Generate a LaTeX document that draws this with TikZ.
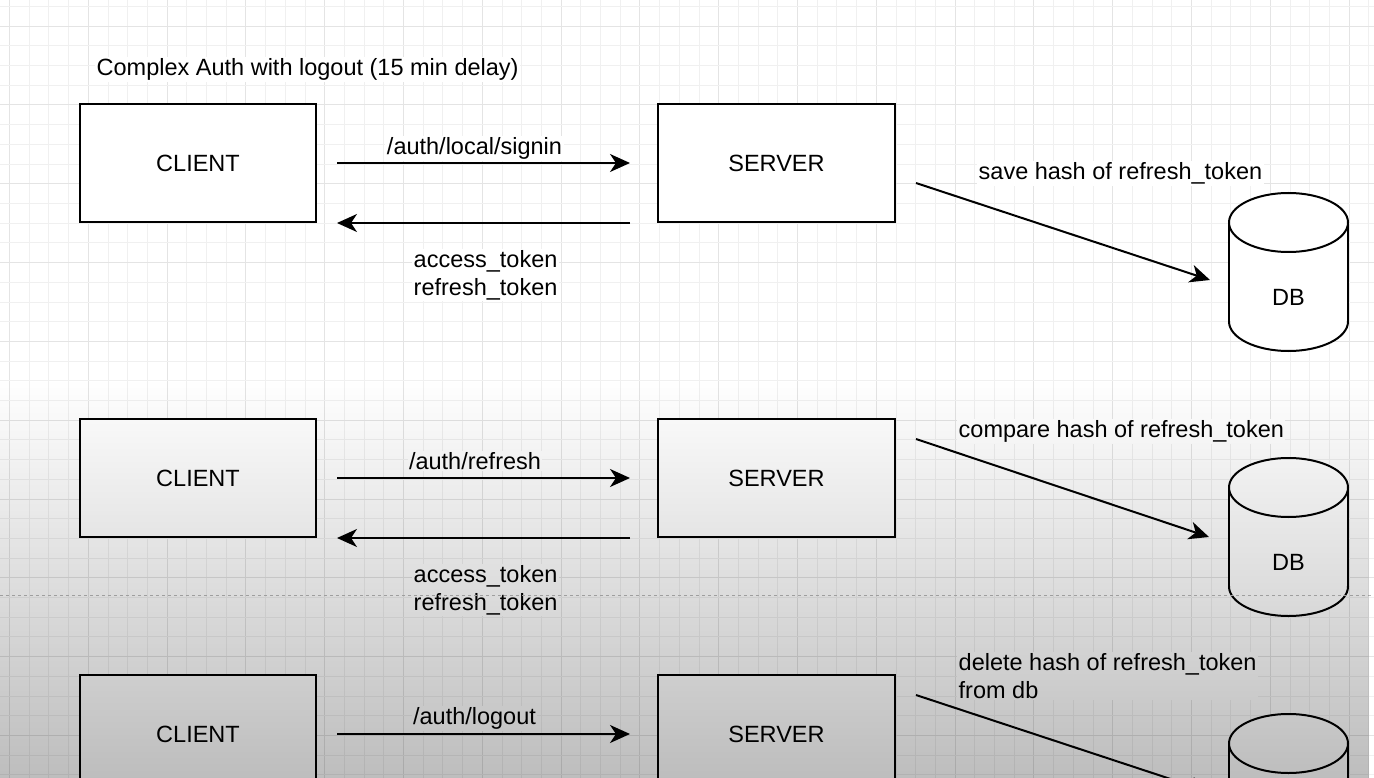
\documentclass[tikz,border=0pt]{standalone}
\usepackage{fontspec}
\setmainfont{Liberation Sans}
\usetikzlibrary{arrows.meta,fadings}
\tikzfading[name=fadedown, top color=transparent!100, bottom color=transparent!0]
\definecolor{gridminor}{HTML}{F0F0F0}
\definecolor{gridmajor}{HTML}{E4E4E4}
\newcommand\mydbcyl[2]{% #1 = centre x, #2 = top y
  \pgfmathsetmacro\cxl{#1-59.5}\pgfmathsetmacro\cxr{#1+59.5}
  \pgfmathsetmacro\yt{#2+29.5}\pgfmathsetmacro\yb{#2+128.5}
  \fill[white] (\cxl,\yt) rectangle (\cxr,\yb);
  \fill[white] (#1,\yb) ellipse [x radius=59.5, y radius=29.5];
  \begin{scope}
    \clip (\cxl-3,\yb) rectangle (\cxr+3,\yb+33);
    \draw[dbline] (#1,\yb) ellipse [x radius=59.5, y radius=29.5];
  \end{scope}
  \draw[dbline] (\cxl,\yt) -- (\cxl,\yb) (\cxr,\yt) -- (\cxr,\yb);
  \draw[dbline, fill=white] (#1,\yt) ellipse [x radius=59.5, y radius=29.5];
}
\begin{document}
\begin{tikzpicture}[x=1pt,y=-1pt,
  font=\fontsize{23.5}{28}\selectfont,
  box/.style={draw=black, line width=2pt, fill=white, minimum width=236pt,
              minimum height=118pt, inner sep=0pt},
  dbline/.style={draw=black, line width=2pt},
  lbl/.style={fill=white, inner sep=1.5pt, align=left},
  conn/.style={line width=2pt, -{Stealth[length=20pt,width=18pt,inset=6pt]}}]
\useasboundingbox (0,0) rectangle (1374,778);
\fill[white] (0,0) rectangle (1374,778);
% grid
\foreach \k in {0,...,69}{
  \pgfmathsetmacro\gx{9.5+19.7*\k}
  \pgfmathtruncatemacro\m{mod(\k,4)}
  \ifnum\m=0 \draw[gridmajor, line width=1pt] (\gx,0) -- (\gx,778);
  \else \draw[gridminor, line width=1pt] (\gx,0) -- (\gx,778); \fi
}
\foreach \k in {0,...,39}{
  \pgfmathsetmacro\gy{6.5+19.7*\k}
  \pgfmathtruncatemacro\m{mod(\k,4)}
  \ifnum\m=1 \draw[gridmajor, line width=1pt] (0,\gy) -- (1374,\gy);
  \else \draw[gridminor, line width=1pt] (0,\gy) -- (1374,\gy); \fi
}
% title
\node[lbl, anchor=base west] (title) at (95,75.5) {Complex Auth with logout (15 min delay)};
% row 1
\node[box] (c1) at (198,163) {CLIENT};
\node[box, minimum width=237pt] (s1) at (776.5,163) {SERVER};
\draw[conn] ([xshift=20pt]c1.east) -- ([xshift=-27pt]s1.west);
\draw[conn] ([xshift=-27pt]s1.south west) -- ([xshift=20pt]c1.south east);
\node[lbl, anchor=base] (l1a) at (474.5,154.5) {/auth/local/signin};
\node[lbl, anchor=west] (l1b) at (412,275) {access\_token\\refresh\_token};
\mydbcyl{1288.5}{193}
\node (db1) at (1288.5,297) {DB};
\coordinate (d1in) at (1210,280);
\draw[conn] ([shift={(20pt,-20pt)}]s1.east) -- (d1in);
\node[lbl, anchor=base west] (h1) at (977,179.5) {save hash of refresh\_token};
% row 2
\node[box] (c2) at (198,478) {CLIENT};
\node[box, minimum width=237pt] (s2) at (776.5,478) {SERVER};
\draw[conn] ([xshift=20pt]c2.east) -- ([xshift=-27pt]s2.west);
\draw[conn] ([xshift=-27pt]s2.south west) -- ([xshift=20pt]c2.south east);
\node[lbl, anchor=base] (l2a) at (475,469.5) {/auth/refresh};
\node[lbl, anchor=west] (l2b) at (412,590) {access\_token\\refresh\_token};
\mydbcyl{1288.5}{458}
\node (db2) at (1288.5,562) {DB};
\coordinate (d2in) at (1209,537);
\draw[conn] ([shift={(20pt,39pt)}]s2.east) -- (d2in);
\node[lbl, anchor=base west] (h2) at (957,437.5) {compare hash of refresh\_token};
% row 3
\node[box] (c3) at (198,734) {CLIENT};
\node[box, minimum width=237pt] (s3) at (776.5,734) {SERVER};
\draw[conn] ([xshift=20pt]c3.east) -- ([xshift=-27pt]s3.west);
\node[lbl, anchor=base] (l3a) at (474.5,724.5) {/auth/logout};
\mydbcyl{1288.5}{714}
\coordinate (d3in) at (1210,792);
\begin{scope}
  \clip (0,0) rectangle (1374,778);
  \draw[conn] ([shift={(20pt,39pt)}]s3.east) -- (d3in);
\end{scope}
\node[lbl, anchor=north west] (h3) at (957,652) {delete hash of refresh\_token\\from db};
% screen artefact: dotted rule and darkening gradient
\draw[black!28, line width=1pt, dash pattern=on 3pt off 3pt] (0,595) -- (1374,595);
\fill[black, opacity=0.26, path fading=fadedown] (0,380) rectangle (1374,778);
\end{tikzpicture}
\end{document}
